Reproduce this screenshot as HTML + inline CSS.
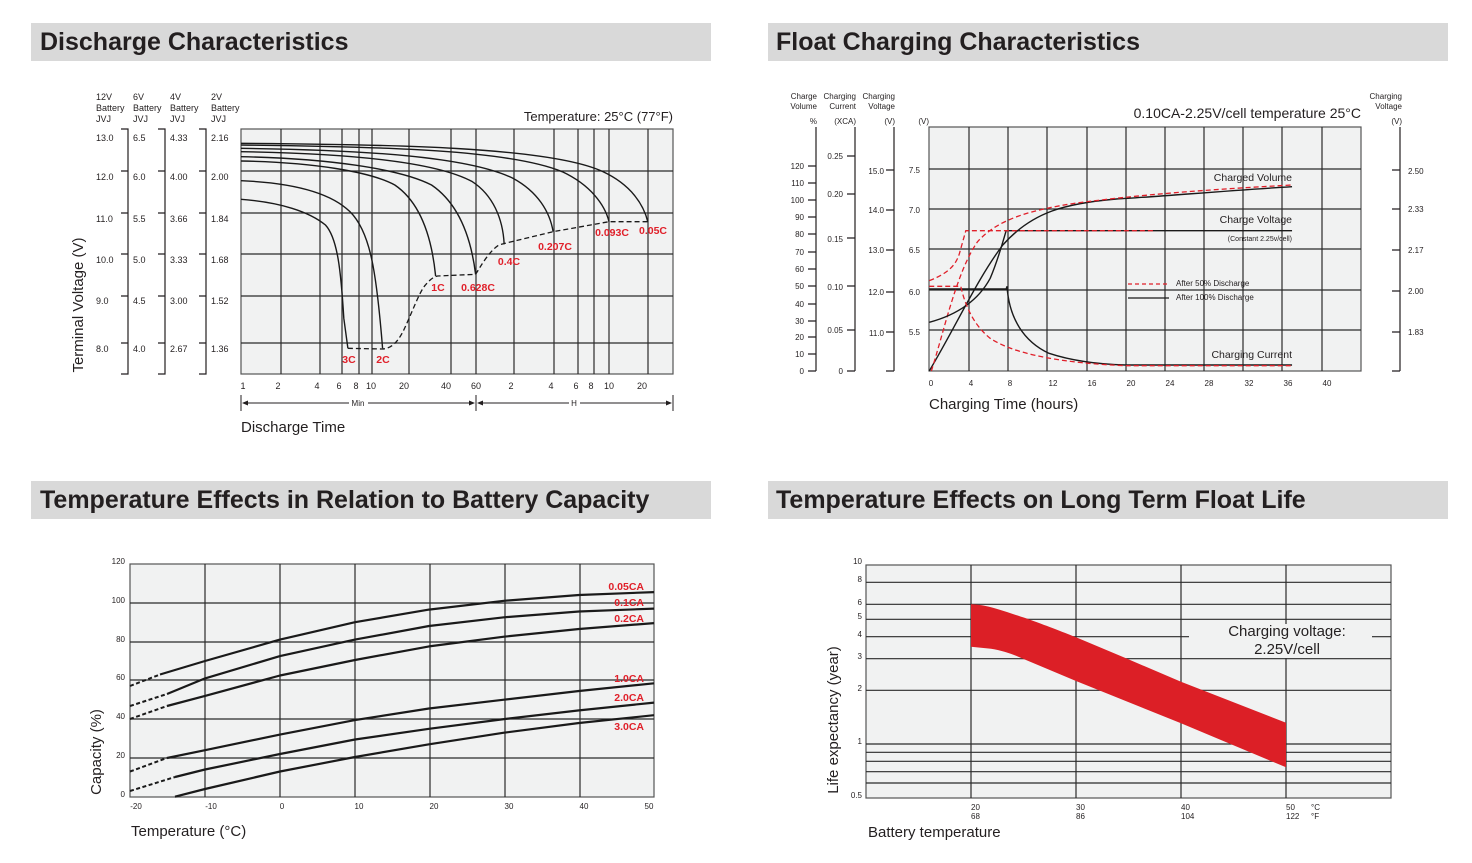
<!DOCTYPE html>
<html><head><meta charset="utf-8"><style>
html,body{margin:0;padding:0;background:#fff;}
svg{display:block;font-family:"Liberation Sans",Arial,sans-serif;}
.t{font-weight:bold;font-size:25px;fill:#231f20;}
.s{font-size:9px;fill:#231f20;}
.xs{font-size:8px;fill:#231f20;}
.r{font-size:10.5px;font-weight:bold;fill:#e0202a;}
.g{stroke:#2b2b2b;stroke-width:1.2;fill:none;}
.c{stroke:#1a1a1a;stroke-width:1.4;fill:none;vector-effect:non-scaling-stroke;}
.d{stroke:#1a1a1a;stroke-width:1.3;fill:none;stroke-dasharray:5 3;vector-effect:non-scaling-stroke;}
.rd{stroke:#e0202a;stroke-width:1.3;fill:none;stroke-dasharray:5 3;vector-effect:non-scaling-stroke;}
.cc{stroke:#1a1a1a;stroke-width:2.2;fill:none;stroke-linejoin:round;}
</style></head><body>
<svg width="1472" height="863" viewBox="0 0 1472 863">
<!-- title bars -->
<rect x="31" y="23" width="680" height="38" fill="#d9d9d9"/>
<rect x="768" y="23" width="680" height="38" fill="#d9d9d9"/>
<rect x="31" y="481" width="680" height="38" fill="#d9d9d9"/>
<rect x="768" y="481" width="680" height="38" fill="#d9d9d9"/>
<text class="t" x="40" y="50">Discharge Characteristics</text>
<text class="t" x="776" y="50">Float Charging Characteristics</text>
<text class="t" x="40" y="508">Temperature Effects in Relation to Battery Capacity</text>
<text class="t" x="776" y="508">Temperature Effects on Long Term Float Life</text>

<!-- ===== Chart 1 ===== -->
<rect x="241" y="129" width="432" height="245" fill="#f1f2f2" stroke="#555" stroke-width="1.2"/>
<g class="g">
<path d="M241,171H673M241,213H673M241,254H673M241,296H673M241,343H673"/>
<path d="M281,129V374M320,129V374M342,129V374M359,129V374M372,129V374M409,129V374M451,129V374M476,129V374M514,129V374M554,129V374M578,129V374M594,129V374M609,129V374M648,129V374"/>
</g>
<g transform="translate(241,85) scale(0.408,0.33333) translate(-443,0)">
<path class="c" d="M443,175 C800,178 1200,185 1330,260 C1400,300 1430,360 1440,410"/>
<path class="c" d="M443,180 C800,185 1100,195 1230,260 C1300,300 1335,360 1345,410"/>
<path class="c" d="M443,190 C750,195 1000,215 1110,280 C1170,320 1200,380 1208,440"/>
<path class="c" d="M443,200 C700,205 920,230 1010,290 C1060,330 1085,400 1088,478"/>
<path class="c" d="M443,215 C650,220 830,250 910,300 C970,350 1005,440 1018,568"/>
<path class="c" d="M443,228 C620,232 760,260 820,300 C880,350 910,450 920,573"/>
<path class="c" d="M443,287 C560,293 660,320 710,380 C760,440 775,560 790,790"/>
<path class="c" d="M443,343 C540,352 610,380 650,420 C680,460 688,560 695,700 L705,790"/>
<path class="d" d="M705,790 L790,792 C810,790 825,775 840,740 C860,690 880,620 895,600 C905,585 915,575 925,573 L1018,568 C1030,545 1050,500 1075,480 L1090,475 L1208,440 L1300,420 L1345,410 L1440,410"/>
</g>
<g class="r" text-anchor="middle">
<text x="349" y="363">3C</text><text x="383" y="363">2C</text>
<text x="438" y="291">1C</text><text x="478" y="291">0.628C</text>
<text x="509" y="265">0.4C</text><text x="555" y="250">0.207C</text>
<text x="612" y="236">0.093C</text><text x="653" y="234">0.05C</text>
</g>
<!-- left brackets -->
<g stroke="#231f20" stroke-width="1.2" fill="none">
<path d="M121,129H128V374H121M121,171H128M121,213H128M121,254H128M121,296H128M121,343H128"/>
<path d="M158,129H165V374H158M158,171H165M158,213H165M158,254H165M158,296H165M158,343H165"/>
<path d="M199,129H206V374H199M199,171H206M199,213H206M199,254H206M199,296H206M199,343H206"/>
</g>
<g class="s">
<text x="96" y="100">12V</text><text x="96" y="111">Battery</text><text x="96" y="122">JVJ</text>
<text x="133" y="100">6V</text><text x="133" y="111">Battery</text><text x="133" y="122">JVJ</text>
<text x="170" y="100">4V</text><text x="170" y="111">Battery</text><text x="170" y="122">JVJ</text>
<text x="211" y="100">2V</text><text x="211" y="111">Battery</text><text x="211" y="122">JVJ</text>
<text x="96" y="141">13.0</text><text x="96" y="180">12.0</text><text x="96" y="222">11.0</text><text x="96" y="263">10.0</text><text x="96" y="304">9.0</text><text x="96" y="352">8.0</text>
<text x="133" y="141">6.5</text><text x="133" y="180">6.0</text><text x="133" y="222">5.5</text><text x="133" y="263">5.0</text><text x="133" y="304">4.5</text><text x="133" y="352">4.0</text>
<text x="170" y="141">4.33</text><text x="170" y="180">4.00</text><text x="170" y="222">3.66</text><text x="170" y="263">3.33</text><text x="170" y="304">3.00</text><text x="170" y="352">2.67</text>
<text x="211" y="141">2.16</text><text x="211" y="180">2.00</text><text x="211" y="222">1.84</text><text x="211" y="263">1.68</text><text x="211" y="304">1.52</text><text x="211" y="352">1.36</text>
</g>
<g class="s" text-anchor="middle">
<text x="243" y="389">1</text><text x="278" y="389">2</text><text x="317" y="389">4</text><text x="339" y="389">6</text><text x="356" y="389">8</text><text x="371" y="389">10</text><text x="404" y="389">20</text><text x="446" y="389">40</text><text x="476" y="389">60</text><text x="511" y="389">2</text><text x="551" y="389">4</text><text x="576" y="389">6</text><text x="591" y="389">8</text><text x="609" y="389">10</text><text x="642" y="389">20</text>
<text x="358" y="406" font-size="8">Min</text><text x="574" y="406" font-size="8">H</text>
</g>
<g stroke="#231f20" stroke-width="1" fill="none">
<path d="M241,395V411M476,395V411M673,395V411"/>
<path d="M243,403H349M368,403H474M478,403H569M580,403H671"/>
</g>
<g fill="#231f20"><path d="M242,403l6,-2.5v5z M475,403l-6,-2.5v5z M477,403l6,-2.5v5z M672,403l-6,-2.5v5z"/></g>
<text x="673" y="121" text-anchor="end" font-size="13" fill="#231f20">Temperature: 25°C (77°F)</text>
<text x="241" y="432" font-size="15" fill="#231f20">Discharge Time</text>
<text transform="translate(83,305) rotate(-90)" text-anchor="middle" font-size="15" fill="#231f20">Terminal Voltage (V)</text>

<!-- ===== Chart 2 ===== -->
<rect x="929" y="127" width="432" height="244" fill="#f1f2f2" stroke="#555" stroke-width="1.2"/>
<g class="g">
<path d="M929,169H1361M929,209H1361M929,249H1361M929,290H1361M929,330H1361"/>
<path d="M969,127V371M1008,127V371M1047,127V371M1087,127V371M1126,127V371M1165,127V371M1204,127V371M1243,127V371M1282,127V371M1322,127V371"/>
</g>
<g transform="translate(780,85) scale(0.4204,0.33333)">
<path class="c" d="M355,858 C420,720 470,580 530,480 C600,380 680,355 800,342 C900,335 1050,318 1218,305"/>
<path class="rd" d="M360,858 C390,740 420,560 470,470 C520,400 600,375 700,355 C850,330 1000,315 1218,300"/>
<path class="c" d="M355,712 C420,690 470,650 500,580 C520,520 530,470 538,437 L1218,437"/>
<path class="rd" d="M355,587 C400,565 420,540 428,500 L442,437 L890,437"/>
<path class="c" d="M355,612 L538,612 L540,604 C545,700 580,770 640,805 C700,830 760,838 822,840 L1218,840"/>
<path class="rd" d="M355,604 L430,604 C440,660 460,720 500,760 C560,810 680,835 822,842 L1218,842"/>
</g>
<path d="M1128,284H1169" stroke="#e0202a" stroke-width="1.2" stroke-dasharray="4 3"/>
<path d="M1128,298H1169" stroke="#1a1a1a" stroke-width="1.2"/>
<g class="xs"><text x="1176" y="286">After  50% Discharge</text><text x="1176" y="300">After 100% Discharge</text></g>
<g font-size="10.5" fill="#231f20" text-anchor="end">
<text x="1292" y="181">Charged Volume</text><text x="1292" y="223">Charge Voltage</text>
<text x="1292" y="241" font-size="7">(Constant 2.25v/cell)</text>
<text x="1292" y="358">Charging Current</text>
</g>
<g stroke="#231f20" stroke-width="1.2" fill="none">
<path d="M816,127V371M808,371H816M808,354H816M808,337H816M808,321H816M808,304H816M808,286H816M808,269H816M808,252H816M808,234H816M808,217H816M808,200H816M808,183H816M808,166H816"/>
<path d="M855,127V371M847,371H855M847,330H855M847,286H855M847,238H855M847,194H855M847,156H855"/>
<path d="M894,127V371M886,371H894M886,332H894M886,292H894M886,250H894M886,210H894M886,170H894"/>
<path d="M1400,127V371M1392,371H1400M1392,332H1400M1392,291H1400M1392,250H1400M1392,209H1400M1392,170H1400"/>
</g>
<g class="xs" text-anchor="end">
<text x="804" y="374">0</text><text x="804" y="357">10</text><text x="804" y="340">20</text><text x="804" y="324">30</text><text x="804" y="307">40</text><text x="804" y="289">50</text><text x="804" y="272">60</text><text x="804" y="255">70</text><text x="804" y="237">80</text><text x="804" y="220">90</text><text x="804" y="203">100</text><text x="804" y="186">110</text><text x="804" y="169">120</text>
<text x="843" y="374">0</text><text x="843" y="333">0.05</text><text x="843" y="290">0.10</text><text x="843" y="242">0.15</text><text x="843" y="197">0.20</text><text x="843" y="159">0.25</text>
<text x="884" y="336">11.0</text><text x="884" y="295">12.0</text><text x="884" y="253">13.0</text><text x="884" y="213">14.0</text><text x="884" y="174">15.0</text>
<text x="920" y="335">5.5</text><text x="920" y="295">6.0</text><text x="920" y="253">6.5</text><text x="920" y="213">7.0</text><text x="920" y="173">7.5</text>
<text x="817" y="99">Charge</text><text x="817" y="109">Volume</text><text x="817" y="124">%</text>
<text x="856" y="99">Charging</text><text x="856" y="109">Current</text><text x="856" y="124">(XCA)</text>
<text x="895" y="99">Charging</text><text x="895" y="109">Voltage</text><text x="895" y="124">(V)</text>
<text x="929" y="124">(V)</text>
<text x="1402" y="99">Charging</text><text x="1402" y="109">Voltage</text><text x="1402" y="124">(V)</text>
</g>
<g class="xs"><text x="1408" y="174">2.50</text><text x="1408" y="212">2.33</text><text x="1408" y="253">2.17</text><text x="1408" y="294">2.00</text><text x="1408" y="335">1.83</text></g>
<g class="xs" text-anchor="middle">
<text x="931" y="386">0</text><text x="971" y="386">4</text><text x="1010" y="386">8</text><text x="1053" y="386">12</text><text x="1092" y="386">16</text><text x="1131" y="386">20</text><text x="1170" y="386">24</text><text x="1209" y="386">28</text><text x="1249" y="386">32</text><text x="1288" y="386">36</text><text x="1327" y="386">40</text>
</g>
<text x="1361" y="118" text-anchor="end" font-size="14" fill="#231f20">0.10CA-2.25V/cell  temperature 25°C</text>
<text x="929" y="409" font-size="15" fill="#231f20">Charging Time (hours)</text>

<!-- ===== Chart 3 ===== -->
<rect x="130" y="564" width="524" height="233" fill="#f1f2f2" stroke="#555" stroke-width="1.2"/>
<g class="g">
<path d="M130,603H654M130,642H654M130,680H654M130,719H654M130,758H654"/>
<path d="M205,564V797M280,564V797M355,564V797M430,564V797M505,564V797M580,564V797"/>
</g>
<g stroke="#1a1a1a" stroke-width="2" fill="none" stroke-dasharray="4 2.5">
<path d="M130,686 L160,674.5"/><path d="M130,706 L167,694"/><path d="M130,719 L167,706"/>
<path d="M130,771.5 L167,758"/><path d="M130,791 L175,777"/>
</g>
<polyline class="cc" points="160,674.5 205,661 280,639.6 355,622.2 429,609.6 504,600.8 579,595 654,592.1"/>
<polyline class="cc" points="167,694 205,678.4 280,656.1 355,639.6 429,626 504,617.3 579,611.5 654,608.6"/>
<polyline class="cc" points="167,706 205,695.9 280,675.5 355,660 429,646.4 504,636.7 579,629 654,623.1"/>
<polyline class="cc" points="167,758 205,750.2 280,734.6 355,720.1 429,708.5 504,699.7 579,691 654,683.3"/>
<polyline class="cc" points="175,777 205,769.5 280,754 355,739.5 429,728.8 504,719.1 579,710.4 654,702.6"/>
<polyline class="cc" points="175,796.7 205,789 280,771.5 355,757 429,744.3 504,732.7 579,723 654,715.2"/>
<g class="r" text-anchor="end" font-size="10">
<text x="644" y="590">0.05CA</text><text x="644" y="606">0.1CA</text><text x="644" y="622">0.2CA</text>
<text x="644" y="682">1.0CA</text><text x="644" y="701">2.0CA</text><text x="644" y="730">3.0CA</text>
</g>
<g class="xs" text-anchor="end">
<text x="125" y="564">120</text><text x="125" y="603">100</text><text x="125" y="642">80</text><text x="125" y="680">60</text><text x="125" y="719">40</text><text x="125" y="758">20</text><text x="125" y="797">0</text>
</g>
<g class="xs" text-anchor="middle">
<text x="136" y="809">-20</text><text x="211" y="809">-10</text><text x="282" y="809">0</text><text x="359" y="809">10</text><text x="434" y="809">20</text><text x="509" y="809">30</text><text x="584" y="809">40</text><text x="649" y="809">50</text>
</g>
<text x="131" y="836" font-size="15" fill="#231f20">Temperature (°C)</text>
<text transform="translate(101,752) rotate(-90)" text-anchor="middle" font-size="15" fill="#231f20">Capacity (%)</text>

<!-- ===== Chart 4 ===== -->
<rect x="866" y="565" width="525" height="233" fill="#f1f2f2" stroke="#555" stroke-width="1.2"/>
<g class="g">
<path d="M866,582.3H1391M866,604.3H1391M866,619.3H1391M866,636.7H1189M1372,636.7H1391M866,658.7H1391M866,690.3H1391M866,744H1391M866,752.3H1391M866,761.3H1391M866,771.7H1391M866,783H1391"/>
<path d="M971,565V798M1076,565V798M1181,565V798M1286,565V624M1286,658V798"/>
</g>
<path fill="#dc1f26" d="M971,604.3 C985,605 991,606.7 1026,618.3 C1050,627 1060,631 1076,637.3 L1126,658.3 L1181,681.7 L1286,722.7 L1286,767.3 L1181,723.3 L1076,681 L1026,660 C1015,655 1005,651 991,648.7 L971,646.7 Z"/>
<g font-size="15" fill="#231f20" text-anchor="middle">
<text x="1287" y="636">Charging voltage:</text><text x="1287" y="654">2.25V/cell</text>
</g>
<g class="xs" text-anchor="end">
<text x="862" y="564">10</text><text x="862" y="582">8</text><text x="862" y="605">6</text><text x="862" y="619">5</text><text x="862" y="637">4</text><text x="862" y="659">3</text><text x="862" y="691">2</text><text x="862" y="744">1</text><text x="862" y="798">0.5</text>
</g>
<g class="xs">
<text x="971" y="810">20</text><text x="971" y="819">68</text>
<text x="1076" y="810">30</text><text x="1076" y="819">86</text>
<text x="1181" y="810">40</text><text x="1181" y="819">104</text>
<text x="1286" y="810">50</text><text x="1286" y="819">122</text>
<text x="1311" y="810">°C</text><text x="1311" y="819">°F</text>
</g>
<text x="868" y="837" font-size="15" fill="#231f20">Battery temperature</text>
<text transform="translate(838,720) rotate(-90)" text-anchor="middle" font-size="15" fill="#231f20">Life expectancy (year)</text>
</svg>
</body></html>
